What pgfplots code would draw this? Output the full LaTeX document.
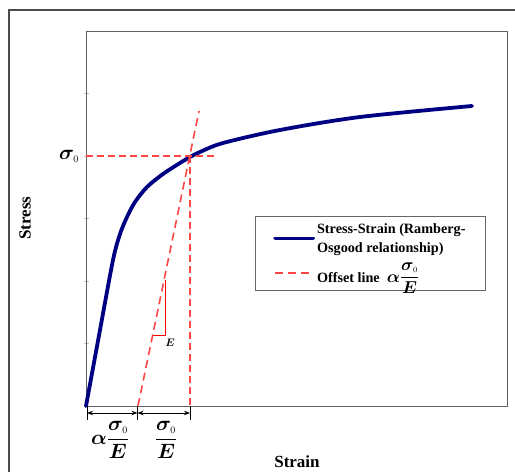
\documentclass[border=0pt]{standalone}
\usepackage{pgfplots}
\pgfplotsset{compat=1.18}
\usepackage{amsmath}
\usepackage{bm}
\usepackage{fontspec}
\setmainfont{Liberation Serif}
\usetikzlibrary{arrows.meta}
\definecolor{navy}{RGB}{0,0,130}
\definecolor{offred}{RGB}{255,70,70}
\newcommand{\legfrac}{{\fontsize{17}{19}\selectfont$\bm{\alpha}\dfrac{\bm{\sigma}_{\scriptscriptstyle 0}}{\bm{E}}$}}
\begin{document}
\begin{tikzpicture}[x=1pt,y=1pt]
\useasboundingbox (0,0) rectangle (515,472);
\draw[gray!60!black, line width=1.3pt] (9,462) rectangle (540,-20);
\begin{axis}[
  at={(86pt,66pt)}, anchor=south west,
  scale only axis, width=421pt, height=375pt,
  xmin=0, xmax=421, ymin=0, ymax=375,
  clip=false,
  xtick=\empty,
  ytick={0,62.5,125,187.5,250,312.5},
  yticklabels={},
  ytick pos=left,
  tick style={gray!50},
  major tick length=5pt,
  tick align=center,
  axis line style={gray!75!black, line width=0.9pt},
  legend style={at={(axis cs:169,190)}, anchor=north west,
    draw=gray!80!black, line width=0.6pt,
    font=\bfseries\fontsize{14.2}{19}\selectfont,
    cells={anchor=west, align=left},
    inner xsep=18pt, inner ysep=5pt, row sep=5pt},
  legend image code/.code={\draw[#1] (0pt,0pt) -- (38pt,0pt);},
]
\addplot[navy, line width=3.8pt, smooth, line cap=round] coordinates {
(0,0) (14,76) (27,146) (34,172) (41,189) (49,204) (61,219)
(77,232) (94,243) (104,249) (114,254) (137,263) (194,276) (274,289) (386,300)
};
\addlegendentry{Stress-Strain (Ramberg-\\Osgood relationship)}
\addplot[offred, line width=1.6pt, dash pattern=on 8pt off 5pt] coordinates {(52,0) (113,295)};
\addlegendentry{Offset line \ \legfrac}
\addplot[offred, line width=1.6pt, dash pattern=on 7pt off 4pt, forget plot] coordinates {(0,250) (131,250)};
\addplot[offred, line width=1.6pt, dash pattern=on 7pt off 4pt, forget plot] coordinates {(104,250) (104,0)};
\addplot[red, line width=0.8pt, forget plot] coordinates {(67,71) (79,71) (79,126)};
\node at (axis cs:84,63) {\fontsize{11}{12}\selectfont$\bm{E}$};
\node at (axis cs:-17,250) {\fontsize{20}{22}\selectfont$\bm{\sigma}_{\scriptscriptstyle 0}$};
\draw[black, line width=0.8pt] (axis cs:1,0) -- (axis cs:1,-14);
\draw[black, line width=0.8pt] (axis cs:51.5,0) -- (axis cs:51.5,-14);
\draw[black, line width=0.8pt] (axis cs:104,0) -- (axis cs:104,-14);
\draw[black, line width=0.9pt, {Stealth[length=6pt]}-{Stealth[length=6pt]}] (axis cs:1,-7) -- (axis cs:51.5,-7);
\draw[black, line width=0.9pt, {Stealth[length=6pt]}-{Stealth[length=6pt]}] (axis cs:51.5,-7) -- (axis cs:104,-7);
\node at (axis cs:24,-34) {\fontsize{20}{22}\selectfont$\displaystyle\bm{\alpha}\frac{\bm{\sigma}_{\scriptscriptstyle 0}}{\bm{E}}$};
\node at (axis cs:80,-34) {\fontsize{20}{22}\selectfont$\displaystyle\frac{\bm{\sigma}_{\scriptscriptstyle 0}}{\bm{E}}$};
\end{axis}
\node[rotate=90] at (25,254) {\bfseries\fontsize{17}{19}\selectfont Stress};
\node at (297,10) {\bfseries\fontsize{17}{19}\selectfont Strain};
\end{tikzpicture}
\end{document}
